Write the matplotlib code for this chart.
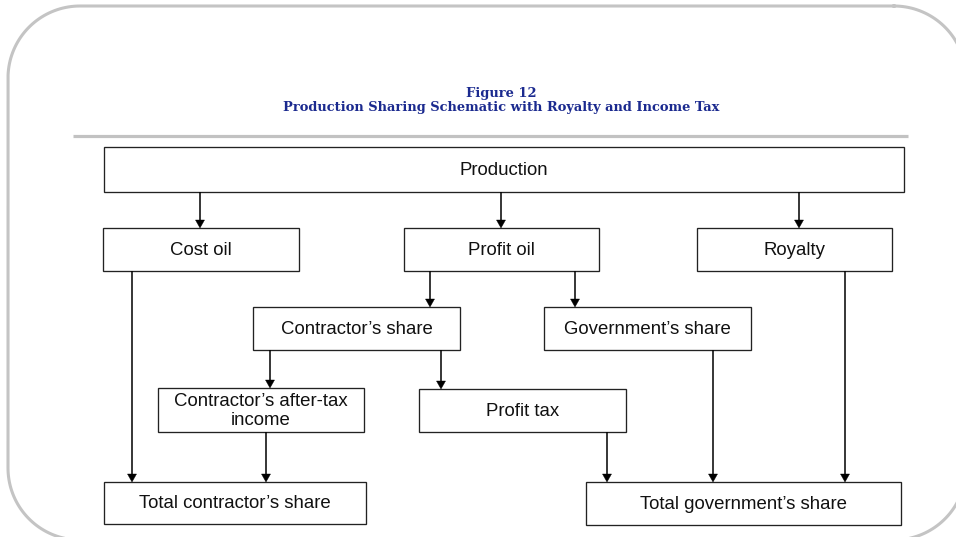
import matplotlib
matplotlib.use("Agg")
import numpy as np
import matplotlib.pyplot as plt
from matplotlib.patches import Rectangle, Polygon

# ---- content ----
title_lines = ["Figure 12", "Production Sharing Schematic with Royalty and Income Tax"]
node_names = ["production", "cost_oil", "profit_oil", "royalty", "contractor_share",
              "gov_share", "after_tax", "profit_tax", "total_contractor", "total_gov"]
node_labels = ["Production", "Cost oil", "Profit oil", "Royalty",
               "Contractor\u2019s share", "Government\u2019s share",
               "Contractor\u2019s after-tax\nincome", "Profit tax",
               "Total contractor\u2019s share", "Total government\u2019s share"]
edges = [("production", "cost_oil"), ("production", "profit_oil"), ("production", "royalty"),
         ("cost_oil", "total_contractor"), ("profit_oil", "contractor_share"),
         ("profit_oil", "gov_share"), ("contractor_share", "after_tax"),
         ("contractor_share", "profit_tax"), ("after_tax", "total_contractor"),
         ("profit_tax", "total_gov"), ("gov_share", "total_gov"), ("royalty", "total_gov")]

# ---- layout (pixel coordinates from top-left: x0, y0, x1, y1) ----
layout = {
    "production": (104, 147, 904, 192),
    "cost_oil": (103, 228, 299, 271),
    "profit_oil": (404, 228, 599, 271),
    "royalty": (697, 228, 892, 271),
    "contractor_share": (253, 307, 460, 350),
    "gov_share": (544, 307, 751, 350),
    "after_tax": (158, 388, 364, 432),
    "profit_tax": (419, 389, 626, 432),
    "total_contractor": (104, 482, 366, 524),
    "total_gov": (586, 482, 901, 525),
}
edge_x = [200, 501, 799, 132, 430, 575, 270, 441, 266, 607, 713, 845]
frame = (8, 6, 966, 540, 72)  # x0, y0, x1, y1, corner radius

W, H = 956, 537
fig = plt.figure(figsize=(W / 100, H / 100), dpi=100)
ax = fig.add_axes([0, 0, 1, 1])
ax.set_xlim(0, W)
ax.set_ylim(H, 0)
ax.axis("off")

# outer rounded frame (extends past the right and bottom edges)
fx0, fy0, fx1, fy1, r = frame
corners = [((fx1 - r, fy0 + r), -90, 0), ((fx1 - r, fy1 - r), 0, 90),
           ((fx0 + r, fy1 - r), 90, 180), ((fx0 + r, fy0 + r), 180, 270)]
px, py = [], []
for (cx, cy), a0, a1 in corners:
    t = np.radians(np.linspace(a0, a1, 40))
    px.extend(cx + r * np.cos(t))
    py.extend(cy + r * np.sin(t))
px.append(px[0]); py.append(py[0])
ax.plot(px, py, color="#c4c4c4", lw=2.2, solid_joinstyle="round")

# title
title_color = "#1b2a8f"
ax.text(501, 93, title_lines[0], ha="center", va="center", color=title_color,
        fontsize=9.4, fontweight="bold", family="DejaVu Serif")
ax.text(501, 108, title_lines[1], ha="center", va="center", color=title_color,
        fontsize=9.4, fontweight="bold", family="DejaVu Serif")

# gray separator
ax.plot([73, 908], [136, 136], color="#c2c2c2", lw=2.3, solid_capstyle="butt")

# boxes
for name, label in zip(node_names, node_labels):
    x0, y0, x1, y1 = layout[name]
    ax.add_patch(Rectangle((x0, y0), x1 - x0, y1 - y0, fill=True, fc="white",
                           ec="#222222", lw=0.95))
    ax.text((x0 + x1) / 2, (y0 + y1) / 2 + 1, label, ha="center", va="center",
            fontsize=13.4, family="Liberation Sans", color="#111111", linespacing=1.1)

# arrows
hw, hl = 4.5, 8
for (src, dst), x in zip(edges, edge_x):
    y_start = layout[src][3]
    y_end = layout[dst][1]
    ax.plot([x, x], [y_start, y_end - hl + 1], color="black", lw=1.1,
            solid_capstyle="butt")
    ax.add_patch(Polygon([(x - hw, y_end - hl), (x + hw, y_end - hl), (x, y_end)],
                         closed=True, fc="black", ec="black", lw=0.3))

fig.savefig("out.png", dpi=100)
